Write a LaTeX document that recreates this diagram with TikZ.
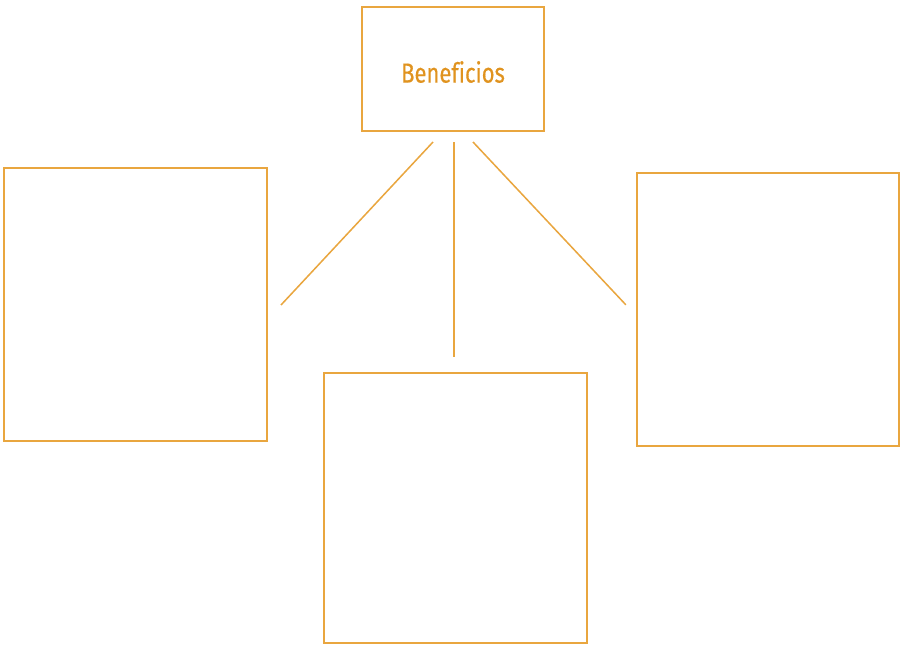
\documentclass[tikz,border=0pt]{standalone}
\usepackage{fontspec}
\usepackage{tikz}
\usetikzlibrary{positioning}
\newfontfamily\titlefont[FakeStretch=0.8,Ligatures=NoCommon,FakeBold=0.4]{Fira Sans}
\definecolor{boxorange}{HTML}{E9A63F}
\definecolor{textorange}{HTML}{E0931F}

\begin{document}
\begin{tikzpicture}[x=0.03cm,y=-0.03cm,thick,
    panel/.style={rectangle,draw=boxorange,line width=1.3pt,inner sep=0pt,outer sep=0pt},
    link/.style={draw=boxorange,line width=1.3pt}]

   \useasboundingbox (0,0) rectangle (900,645);

    \node[panel,minimum width=5.46cm,minimum height=3.72cm] (top) at (453,69) {};
    \node[font=\titlefont\fontsize{23.5}{26}\selectfont,text=textorange] (title) at (453,72) {Beneficios};
    \node[panel,minimum width=7.89cm,minimum height=8.19cm] (left) at (135.5,304.5) {};
    \node[panel,minimum width=7.89cm,minimum height=8.10cm] (bottom) at (455.5,508) {};
    \node[panel,minimum width=7.87cm,minimum height=8.19cm] (right) at (768,309.3) {};

    \coordinate (topl) at ([shift={(-20,11)}]top.south);
    \coordinate (topc) at ([shift={(1,11)}]top.south);
    \coordinate (topr) at ([shift={(20,11)}]top.south);
    \coordinate (leftend) at ([shift={(14,137)}]left.north east);
    \coordinate (bottomend) at ([shift={(-1.5,-16)}]bottom.north);
    \coordinate (rightend) at ([shift={(-11,132)}]right.north west);

    \path[link] (topl) -- (leftend);
    \path[link] (topc) -- (bottomend);
    \path[link] (topr) -- (rightend);

  \end{tikzpicture}
\end{document}
